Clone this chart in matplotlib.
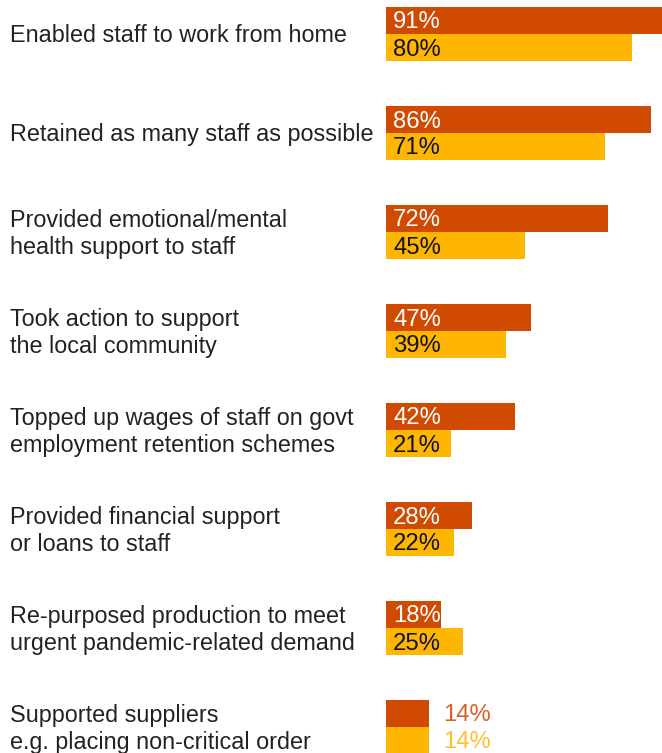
import matplotlib.pyplot as plt
import matplotlib.transforms as mtransforms

# Survey actions, two response groups per action (percent)
actions = [
    "Enabled staff to work from home",
    "Retained as many staff as possible",
    "Provided emotional/mental\nhealth support to staff",
    "Took action to support\nthe local community",
    "Topped up wages of staff on govt\nemployment retention schemes",
    "Provided financial support\nor loans to staff",
    "Re-purposed production to meet\nurgent pandemic-related demand",
    "Supported suppliers\ne.g. placing non-critical order",
]
group_a = [91, 86, 72, 47, 42, 28, 18, 14]
group_b = [80, 71, 45, 39, 21, 22, 25, 14]

DARK = "#D04A02"
GOLD = "#FFB600"
TEXT = "#222222"

plt.rcParams['font.family'] = ['Liberation Sans', 'DejaVu Sans']

fig = plt.figure(figsize=(6.62, 7.53), dpi=100)
ax = fig.add_axes([0, 0, 1, 1])

# pixel-based layout: bars start at x=386, ~3.08 px per percent
px_per_pct = 3.08
x0 = 386
ax.set_xlim(-x0 / px_per_pct, (662 - x0) / px_per_pct)
gap = 99.0
ax.set_ylim((753 - 34) / gap, -34 / gap)
h = 27 / gap
nudge = 2 / gap  # text sits a touch low of the geometric centre

ys = list(range(len(actions)))
ax.barh([y - h / 2 for y in ys], group_a, height=h, color=DARK, linewidth=0)
ax.barh([y + h / 2 for y in ys], group_b, height=h, color=GOLD, linewidth=0)

lbl = mtransforms.blended_transform_factory(ax.transAxes, ax.transData)
for y, name in zip(ys, actions):
    ax.text(10 / 662, y + nudge, name, transform=lbl, ha="left", va="center",
            fontsize=16.8, color=TEXT, linespacing=1.25)

pad = 7 / px_per_pct
fs = 17.2
for y, a, b in zip(ys, group_a, group_b):
    if a >= 16 and b >= 16:
        ax.text(pad, y - h / 2 + nudge, f"{a}%", ha="left", va="center",
                fontsize=fs, color="white")
        ax.text(pad, y + h / 2 + nudge, f"{b}%", ha="left", va="center",
                fontsize=fs, color="#111111")
    else:
        xo = max(a, b) + 14 / px_per_pct
        ax.text(xo, y - h / 2 + nudge, f"{a}%", ha="left", va="center",
                fontsize=fs, color="#D9622B")
        ax.text(xo, y + h / 2 + nudge, f"{b}%", ha="left", va="center",
                fontsize=fs, color="#FFC033")

ax.axis("off")
fig.savefig("out.png", dpi=100)
